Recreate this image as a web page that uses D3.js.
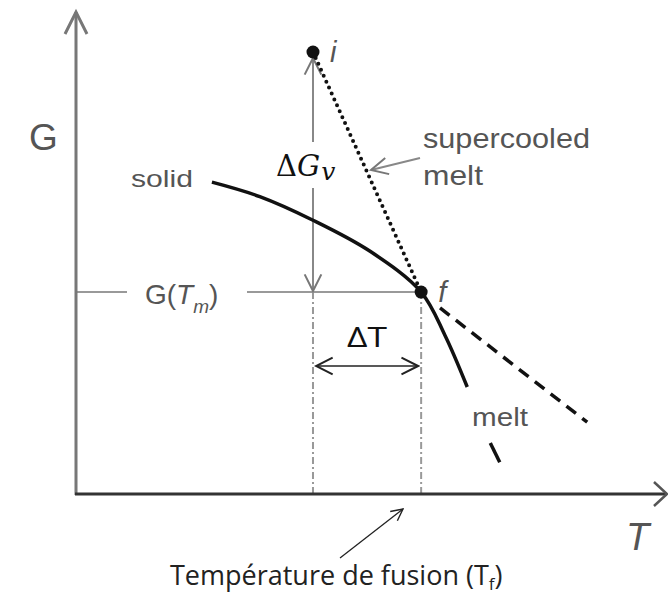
<!DOCTYPE html>
<html>
<head>
<meta charset="utf-8">
<script src="https://cdn.jsdelivr.net/npm/d3@7"></script>
<style>
  body { margin: 0; background: #fff; }
  svg { display: block; }
  .lbl { font-family: "Liberation Sans", Arial, sans-serif; fill: #555; }
</style>
</head>
<body>
<svg id="chart" width="668" height="603"></svg>
<script>
// diagram values, in arbitrary T / G units (0..100)
const solidT = [23.0, 31.1, 40.1, 49.7, 58.4, 62.4, 66.2];
const solidG = [64.7, 61.7, 56.8, 50.4, 41.9, 33.0, 22.2];
const meltFragT = [70.1, 71.7];
const meltFragG = [10.6, 6.6];
const supercooledT = [40.1, 58.4];
const supercooledG = [91.7, 41.9];
const meltExtT = [61.6, 86.5];
const meltExtG = [38.6, 14.9];
const pointNames = ["i", "f"];
const pointT = [40.1, 58.4];
const pointG = [91.7, 41.9];
const Tm = 58.4;
const Gm = 41.9;

const svg = d3.select("#chart");
const x = d3.scaleLinear().domain([0, 100]).range([76, 667]);
const y = d3.scaleLinear().domain([0, 100]).range([494, 12]);

const zip = (a, b) => a.map((v, i) => [x(v), y(b[i])]);
const line = d3.line();

// open chevron marker
const defs = svg.append("defs");
function chevron(id, color, size) {
  defs.append("marker")
    .attr("id", id)
    .attr("viewBox", "0 0 12 12")
    .attr("refX", 11).attr("refY", 6)
    .attr("markerWidth", size).attr("markerHeight", size)
    .attr("markerUnits", "userSpaceOnUse")
    .attr("orient", "auto-start-reverse")
    .append("path")
    .attr("d", "M1,1 L11,6 L1,11")
    .attr("fill", "none")
    .attr("stroke", color)
    .attr("stroke-width", 1.2);
}
chevron("arrGrey", "#777", 20);
chevron("arrBlack", "#222", 20);
chevron("arrThin", "#222", 14);

function label(txt, px, py, size, len) {
  const t = svg.append("text").attr("class", "lbl").attr("x", px).attr("y", py)
    .style("font-size", size + "px").text(txt);
  if (len) t.attr("textLength", len).attr("lengthAdjust", "spacingAndGlyphs");
  return t;
}

// G(Tm) horizontal guide, broken around its label
svg.append("line").attr("x1", x(0)).attr("x2", 127).attr("y1", y(Gm)).attr("y2", y(Gm))
  .attr("stroke", "#999").attr("stroke-width", 2);
svg.append("line").attr("x1", 247).attr("x2", x(Tm)).attr("y1", y(Gm)).attr("y2", y(Gm))
  .attr("stroke", "#999").attr("stroke-width", 2);
const gtm = svg.append("text").attr("class", "lbl").attr("x", 145).attr("y", y(Gm) + 12)
  .style("font-size", "28px");
gtm.append("tspan").text("G(");
gtm.append("tspan").style("font-style", "italic").text("T");
gtm.append("tspan").style("font-style", "italic").style("font-size", "19px").attr("dy", 9).text("m");
gtm.append("tspan").attr("dy", -9).text(")");

// dash-dot verticals at T_i and Tm
[pointT[0], Tm].forEach(t => {
  svg.append("line").attr("x1", x(t)).attr("x2", x(t)).attr("y1", y(Gm)).attr("y2", y(0))
    .attr("stroke", "#999").attr("stroke-width", 2)
    .attr("stroke-dasharray", "7,3,2,3");
});

// axes
svg.append("path").attr("d", line([[x(0), y(0) + 1], [x(0), y(100)]]))
  .attr("stroke", "#777").attr("stroke-width", 3).attr("fill", "none");
svg.append("path").attr("d", line([[x(0) - 11, y(100) + 22], [x(0), y(100)], [x(0) + 11, y(100) + 22]]))
  .attr("stroke", "#777").attr("stroke-width", 3).attr("fill", "none");
svg.append("path").attr("d", line([[x(0) - 1, y(0)], [x(100), y(0)]]))
  .attr("stroke", "#333").attr("stroke-width", 3).attr("fill", "none");
svg.append("path").attr("d", line([[x(100) - 13, y(0) - 12], [x(100), y(0)], [x(100) - 13, y(0) + 12]]))
  .attr("stroke", "#555").attr("stroke-width", 2.5).attr("fill", "none");

// ΔGv double arrow (broken around label)
svg.append("line").attr("x1", x(pointT[0])).attr("x2", x(pointT[0]))
  .attr("y1", 142).attr("y2", y(pointG[0]) + 6)
  .attr("stroke", "#888").attr("stroke-width", 2).attr("marker-end", "url(#arrGrey)");
svg.append("line").attr("x1", x(pointT[0])).attr("x2", x(pointT[0]))
  .attr("y1", 188).attr("y2", y(Gm) - 1)
  .attr("stroke", "#888").attr("stroke-width", 2).attr("marker-end", "url(#arrGrey)");
const dg = svg.append("text").attr("x", 276).attr("y", 176)
  .style("font-family", "'DejaVu Serif', 'Liberation Serif', serif").style("font-size", "29px").attr("fill", "#111");
dg.append("tspan").text("Δ");
dg.append("tspan").style("font-style", "italic").text("G");
dg.append("tspan").style("font-style", "italic").style("font-size", "25px").attr("dy", 4).attr("dx", 1).text("v");

// ΔT double arrow
svg.append("line").attr("x1", x(pointT[0]) + 3).attr("x2", x(Tm) - 3).attr("y1", 366).attr("y2", 366)
  .attr("stroke", "#222").attr("stroke-width", 1.5)
  .attr("marker-start", "url(#arrBlack)").attr("marker-end", "url(#arrBlack)");
svg.append("text").attr("x", (x(pointT[0]) + x(Tm)) / 2).attr("y", 347).attr("text-anchor", "middle")
  .style("font-family", "'Open Sans', 'Noto Sans', sans-serif").style("font-size", "28px").attr("fill", "#111")
  .attr("textLength", 40).attr("lengthAdjust", "spacingAndGlyphs")
  .text("ΔT");

// curves
svg.append("path").attr("d", line.curve(d3.curveCatmullRom)(zip(solidT, solidG)))
  .attr("stroke", "#111").attr("stroke-width", 3.5).attr("fill", "none");
line.curve(d3.curveLinear);
svg.append("path").attr("d", line(zip(meltFragT, meltFragG)))
  .attr("stroke", "#111").attr("stroke-width", 3.5).attr("fill", "none");
svg.append("path").attr("d", line(zip(supercooledT, supercooledG)))
  .attr("stroke", "#111").attr("stroke-width", 4).attr("fill", "none")
  .attr("stroke-dasharray", "0,6.5").attr("stroke-linecap", "round");
svg.append("path").attr("d", line(zip(meltExtT, meltExtG)))
  .attr("stroke", "#111").attr("stroke-width", 3.5).attr("fill", "none")
  .attr("stroke-dasharray", "12,8");

// points i and f
pointNames.forEach((n, k) => {
  svg.append("circle").attr("cx", x(pointT[k])).attr("cy", y(pointG[k])).attr("r", 6.5).attr("fill", "#111");
  svg.append("text").attr("class", "lbl").attr("x", x(pointT[k]) + 17).attr("y", y(pointG[k]) + 10)
    .style("font-size", "29px").style("font-style", "italic").text(n);
});

// labels
label("G", 29, 150, 37);
label("T", 626, 550, 38).style("font-style", "italic");
label("solid", 131, 187, 24, 62);
label("supercooled", 423, 148, 28, 167);
label("melt", 423, 185, 28, 60);
label("melt", 472, 426, 26, 56);

// supercooled pointer
svg.append("line").attr("x1", 420).attr("y1", 158).attr("x2", 371).attr("y2", 170)
  .attr("stroke", "#888").attr("stroke-width", 2).attr("marker-end", "url(#arrGrey)");

// Tf pointer and caption
svg.append("line").attr("x1", 340).attr("y1", 558).attr("x2", 403).attr("y2", 509)
  .attr("stroke", "#222").attr("stroke-width", 1.3).attr("marker-end", "url(#arrThin)");
const cap = svg.append("text").attr("x", 170).attr("y", 585)
  .style("font-family", "'Open Sans', 'Noto Sans', sans-serif").style("font-size", "27px").attr("fill", "#222");
cap.append("tspan").text("Température de fusion (T");
cap.append("tspan").style("font-size", "17px").attr("dy", 5).text("f");
cap.append("tspan").attr("dy", -5).text(")");
</script>
</body>
</html>
